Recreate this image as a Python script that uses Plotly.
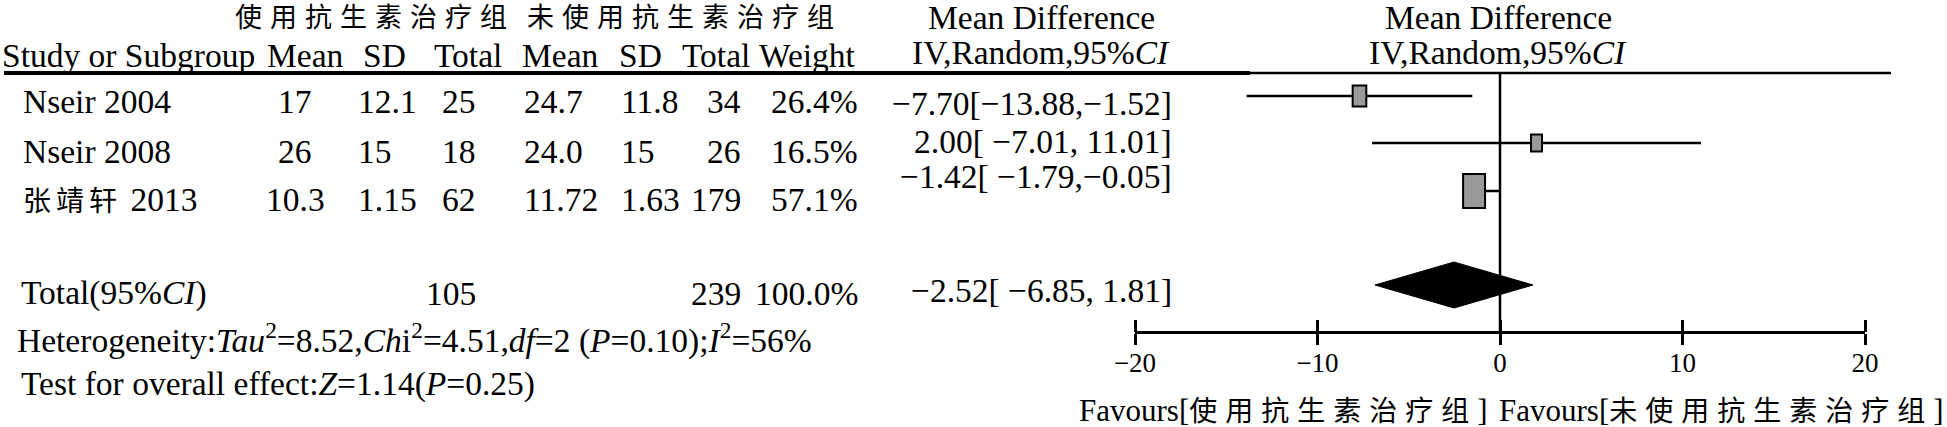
import plotly.graph_objects as go

# ---------------- data ----------------
studies = ["Nseir 2004", "Nseir 2008", "张靖轩 2013"]
mean_t = [17, 26, 10.3]
sd_t = [12.1, 15, 1.15]
n_t = [25, 18, 62]
mean_c = [24.7, 24.0, 11.72]
sd_c = [11.8, 15, 1.63]
n_c = [34, 26, 179]
weights = [26.4, 16.5, 57.1]
md = [-7.70, 2.00, -1.42]
ci_lo = [-13.88, -7.01, -1.79]
ci_hi = [-1.52, 11.01, -0.05]
total_t, total_c, total_w = 105, 239, 100.0
md_total, lo_total, hi_total = -2.52, -6.85, 1.81
tau2, chi2, df, p_het, i2 = 8.52, 4.51, 2, 0.10, 56
z_val, p_z = 1.14, 0.25
group_t = "使用抗生素治疗组"
group_c = "未使用抗生素治疗组"
x_ticks = [-20, -10, 0, 10, 20]

# ---------------- layout constants ----------------
W, H = 1947, 427
FONT = "Liberation Serif, Noto Sans CJK SC, serif"
FS = 33.5
X0, X1 = 1135, 1865          # pixel span of the forest axis
AX_Y = 332                    # pixel y of forest x-axis
HDR_Y = 73
row_text_y = [101, 151, 199]
ci_text_y = [103, 141, 176]
forest_y = [96, 143, 191]
TOT_Y, DIA_Y = 293, 285
px_per_unit = (X1 - X0) / 40.0


def fmt_num(v):
    return str(v).replace("-", "−")


def ci_text(m, lo, hi):
    hi_s = f"{hi:.2f}" if hi < 0 else f" {hi:.2f}"
    return f"{m:.2f}[{lo:6.2f},{hi_s}]".replace("-", "−")


def cjk(s, spacing=8, size=27):
    return f'<span style="letter-spacing:{spacing}px;font-size:{size}px">{s}</span>'


fig = go.Figure()

# CI lines
for i in range(len(studies)):
    fig.add_trace(go.Scatter(x=[ci_lo[i], ci_hi[i]], y=[forest_y[i]] * 2, mode="lines",
                             line=dict(color="black", width=2.5), hoverinfo="skip",
                             showlegend=False))

# boxes
for i in range(len(studies)):
    w_px = 6.5 + 0.271 * weights[i]
    h_px = 10 + 0.42 * weights[i]
    hw = w_px / 2 / px_per_unit
    fig.add_shape(type="rect", xref="x", yref="y", x0=md[i] - hw, x1=md[i] + hw,
                  y0=forest_y[i] - h_px / 2, y1=forest_y[i] + h_px / 2,
                  fillcolor="#999999", line=dict(color="black", width=2))

# diamond
fig.add_trace(go.Scatter(x=[lo_total, md_total, hi_total, md_total, lo_total],
                         y=[DIA_Y, DIA_Y - 23, DIA_Y, DIA_Y + 23, DIA_Y],
                         fill="toself", fillcolor="black", mode="lines",
                         line=dict(color="black", width=1), hoverinfo="skip",
                         showlegend=False))

# zero line (on overlaying axis carrying upper tick halves)
fig.add_trace(go.Scatter(x=[0, 0], y=[HDR_Y, AX_Y], mode="lines", xaxis="x2", yaxis="y",
                         line=dict(color="black", width=2.5), hoverinfo="skip",
                         showlegend=False))

# header rule
fig.add_shape(type="line", xref="paper", yref="y", x0=4 / W, x1=1250 / W, y0=HDR_Y, y1=HDR_Y,
              line=dict(color="black", width=4))
fig.add_shape(type="line", xref="paper", yref="y", x0=1250 / W, x1=1891 / W, y0=HDR_Y, y1=HDR_Y,
              line=dict(color="black", width=2.5))


def txt(x, y, s, anchor="left", size=FS):
    fig.add_annotation(x=x / W, y=y, xref="paper", yref="y", text=s, xanchor=anchor,
                       yanchor="middle", showarrow=False, borderpad=0,
                       font=dict(family=FONT, size=size, color="black"))


# headers
txt(375, 18, cjk(group_t), "center")
txt(684, 18, cjk(group_c), "center")
txt(1, 55, "Study or Subgroup")
for x, s in [(305, "Mean"), (384, "SD"), (468, "Total"), (560, "Mean"), (640, "SD"),
             (716, "Total"), (807, "Weight")]:
    txt(x, 55, s, "center")
for xc in (1041, 1498):
    txt(xc, 17, "Mean Difference", "center")
    txt(xc, 52, "IV,Random,95%<i>CI</i>", "center")

# rows
for i in range(len(studies)):
    y = row_text_y[i]
    txt(22, y, studies[i].replace("张靖轩", cjk("张靖轩", 5, 28)))
    txt(295, y, fmt_num(mean_t[i]), "center")
    txt(357, y, fmt_num(sd_t[i]))
    txt(477, y, fmt_num(n_t[i]), "right")
    txt(523, y, fmt_num(mean_c[i]))
    txt(620, y, fmt_num(sd_c[i]))
    txt(742, y, fmt_num(n_c[i]), "right")
    txt(859, y, f"{weights[i]:.1f}%", "right")
    txt(1173, ci_text_y[i], ci_text(md[i], ci_lo[i], ci_hi[i]), "right")

# total
txt(20, TOT_Y, "Total(95%<i>CI</i>)")
txt(477, TOT_Y, str(total_t), "right")
txt(742, TOT_Y, str(total_c), "right")
txt(859, TOT_Y, f"{total_w:.1f}%", "right")
txt(1173, 290, ci_text(md_total, lo_total, hi_total), "right")

txt(16, 338, f"Heterogeneity:<i>Tau</i><sup>2</sup>={tau2:.2f},<i>Ch</i>i<sup>2</sup>={chi2:.2f},"
             f"<i>df</i>={df} (<i>P</i>={p_het:.2f});<i>I</i><sup>2</sup>={i2}%")
txt(20, 384, f"Test for overall effect:<i>Z</i>={z_val:.2f}(<i>P</i>={p_z:.2f})")

txt(1283, 410, "Favours[" + cjk(group_t, 8, 28) + "]", "center", 31)
txt(1721, 410, "Favours[" + cjk(group_c, 8, 28) + "]", "center", 31)

pos = 1 - AX_Y / H
fig.update_layout(
    width=W, height=H, margin=dict(l=0, r=0, t=0, b=0, pad=0), autosize=False,
    paper_bgcolor="white", plot_bgcolor="white", showlegend=False,
    xaxis=dict(domain=[X0 / W, X1 / W], range=[-20, 20], anchor="free", position=pos,
               showline=True, linewidth=3, linecolor="black", ticks="outside", ticklen=11,
               tickwidth=2.5, tickcolor="black", tickvals=x_ticks, automargin=False,
               ticklabelstandoff=-5,
               tickfont=dict(family=FONT, size=27, color="black"),
               showgrid=False, zeroline=False, fixedrange=True),
    xaxis2=dict(domain=[X0 / W, X1 / W], range=[-20, 20], anchor="free", position=pos,
                overlaying="x", side="top", ticks="outside", ticklen=12, tickwidth=2.5,
                tickcolor="black", tickvals=x_ticks, showticklabels=False, showline=False,
                automargin=False, showgrid=False, zeroline=False, fixedrange=True),
    yaxis=dict(domain=[0, 1], range=[H, 0], visible=False, fixedrange=True, automargin=False),
)

fig.write_html("out.html", config={"displayModeBar": False},
               post_script="document.body.style.margin='0px';")
